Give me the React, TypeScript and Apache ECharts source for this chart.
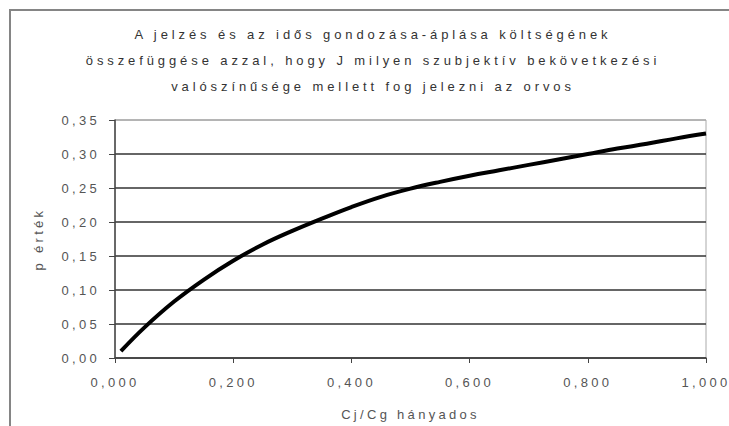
import React, { useEffect, useRef } from "react";
import * as echarts from "echarts";

const titleLines = [
  "A jelzés és az idős gondozása-áplása költségének",
  "összefüggése azzal, hogy J milyen szubjektív bekövetkezési",
  "valószínűsége mellett fog jelezni az orvos",
];
const xName = "Cj/Cg hányados";
const yName = "p érték";

const ratioValues = [0.01, 0.05, 0.1, 0.15, 0.2, 0.25, 0.3, 0.35, 0.4, 0.45, 0.5, 0.55, 0.6, 0.65, 0.7, 0.75, 0.8, 0.85, 0.9, 0.95, 1.0];
const pValues = [0.010, 0.045, 0.083, 0.115, 0.143, 0.167, 0.187, 0.205, 0.222, 0.237, 0.249, 0.259, 0.268, 0.276, 0.284, 0.292, 0.300, 0.308, 0.315, 0.323, 0.330];

const gridColors = ["#333", "#333", "#333", "#333", "#333", "#333", "#333", "#aaa"];

export default function App() {
  const ref = useRef<HTMLDivElement>(null);
  useEffect(() => {
    document.body.style.margin = "0";
    const chart = echarts.init(ref.current!, null, { renderer: "svg" });
    const font = "'Liberation Sans', Arial, sans-serif";
    const titleFont = "'Liberation Sans', Helvetica, sans-serif";
    chart.setOption({
      animation: false,
      backgroundColor: "#fff",
      graphic: [
        {
          type: "rect",
          shape: { x: 10, y: 10, width: 740, height: 440 },
          style: { fill: "none", stroke: "#858585", lineWidth: 2 },
          z: 0,
        },
        ...titleLines.map((t, i) => ({
          type: "text",
          x: 373,
          y: 34 + i * 26,
          style: {
            text: t,
            align: "center",
            verticalAlign: "middle",
            fontFamily: titleFont,
            fontSize: 13,
            fill: "#333",
          },
        })),
      ],
      grid: {
        left: 115,
        right: 23,
        top: 120,
        bottom: 64,
        show: true,
        borderColor: "#aaa",
        borderWidth: 1,
        backgroundColor: "transparent",
      },
      xAxis: {
        type: "value",
        min: 0,
        max: 1,
        interval: 0.2,
        name: xName,
        nameLocation: "middle",
        nameGap: 50,
        nameTextStyle: { fontFamily: font, fontSize: 13, color: "#555" },
        axisLine: { show: true, lineStyle: { color: "#444", width: 1.5 } },
        axisTick: { show: true, length: 5, lineStyle: { color: "#444" } },
        axisLabel: {
          fontFamily: font,
          fontSize: 13,
          color: "#555",
          margin: 18,
          formatter: (v: number) => v.toFixed(3).replace(".", ","),
        },
        splitLine: { show: false },
      },
      yAxis: {
        type: "value",
        min: 0,
        max: 0.35,
        interval: 0.05,
        name: yName,
        nameLocation: "middle",
        nameGap: 70,
        nameTextStyle: { fontFamily: font, fontSize: 13, color: "#555" },
        axisLine: { show: true, lineStyle: { color: "#444", width: 1.5 } },
        axisTick: { show: true, length: 6, lineStyle: { color: "#444" } },
        axisLabel: {
          fontFamily: font,
          fontSize: 13,
          color: "#555",
          margin: 15,
          formatter: (v: number) => v.toFixed(2).replace(".", ","),
        },
        splitLine: { show: true, lineStyle: { color: gridColors, width: 1.5 } },
      },
      series: [
        {
          type: "line",
          data: ratioValues.map((x, i) => [x, pValues[i]]),
          smooth: 0.4,
          showSymbol: false,
          lineStyle: { color: "#000", width: 4 },
        },
      ],
    });
    return () => chart.dispose();
  }, []);
  return (
    <>
      <style>{`#chart text { letter-spacing: 3.3px; } #chart text[style*="Helvetica"] { letter-spacing: 3.9px; }`}</style>
      <div id="chart" ref={ref} style={{ width: 729, height: 426 }} />
    </>
  );
}
